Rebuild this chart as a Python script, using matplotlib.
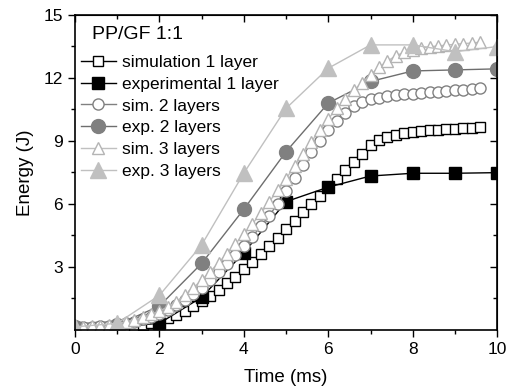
import numpy as np
import matplotlib
matplotlib.use("Agg")
import matplotlib.pyplot as plt

plt.rcParams['font.family'] = ['Liberation Sans', 'DejaVu Sans']

# simulation time grid (ms), one point every 0.2 ms
t_sim = [0.0, 0.2, 0.4, 0.6, 0.8, 1.0, 1.2, 1.4, 1.6, 1.8,
         2.0, 2.2, 2.4, 2.6, 2.8, 3.0, 3.2, 3.4, 3.6, 3.8,
         4.0, 4.2, 4.4, 4.6, 4.8, 5.0, 5.2, 5.4, 5.6, 5.8,
         6.0, 6.2, 6.4, 6.6, 6.8, 7.0, 7.2, 7.4, 7.6, 7.8,
         8.0, 8.2, 8.4, 8.6, 8.8, 9.0, 9.2, 9.4, 9.6]

sim1 = [0.10, 0.10, 0.11, 0.12, 0.13, 0.14, 0.16, 0.20, 0.26, 0.35,
        0.45, 0.58, 0.73, 0.92, 1.14, 1.38, 1.64, 1.92, 2.22, 2.54,
        2.88, 3.24, 3.61, 4.00, 4.40, 4.80, 5.20, 5.60, 6.00, 6.40,
        6.80, 7.20, 7.60, 8.00, 8.40, 8.80, 9.05, 9.20, 9.30, 9.37,
        9.42, 9.46, 9.50, 9.53, 9.56, 9.58, 9.60, 9.62, 9.65]

sim2 = [0.13, 0.14, 0.15, 0.17, 0.20, 0.26, 0.32, 0.40, 0.50, 0.62,
        0.78, 0.96, 1.18, 1.42, 1.70, 2.02, 2.38, 2.76, 3.16, 3.57,
        4.00, 4.45, 4.93, 5.45, 6.00, 6.60, 7.25, 7.85, 8.45, 9.00,
        9.50, 9.95, 10.35, 10.65, 10.85, 10.98, 11.06, 11.12, 11.17, 11.21,
        11.25, 11.28, 11.31, 11.34, 11.37, 11.40, 11.43, 11.46, 11.50]

sim3 = [0.15, 0.16, 0.18, 0.21, 0.25, 0.31, 0.39, 0.48, 0.60, 0.74,
        0.90, 1.10, 1.35, 1.65, 2.00, 2.38, 2.78, 3.20, 3.63, 4.10,
        4.57, 5.05, 5.55, 6.10, 6.65, 7.20, 7.80, 8.40, 8.97, 9.52,
        10.05, 10.55, 11.00, 11.40, 11.78, 12.15, 12.50, 12.80, 13.05, 13.22,
        13.35, 13.43, 13.48, 13.52, 13.56, 13.60, 13.63, 13.66, 13.70]

# experiments, every 1 ms
t_exp = [0, 1, 2, 3, 4, 5, 6, 7, 8, 9, 10]
exp1 = [0.10, 0.15, 0.32, 1.56, 3.68, 6.11, 6.80, 7.33, 7.46, 7.46, 7.49]
exp2 = [0.15, 0.25, 1.14, 3.17, 5.75, 8.49, 10.80, 11.83, 12.33, 12.38, 12.43]
exp3 = [0.15, 0.32, 1.65, 4.05, 7.47, 10.55, 12.46, 13.57, 13.57, 13.25, 13.49]

labels = ["simulation 1 layer", "experimental 1 layer", "sim. 2 layers",
          "exp. 2 layers", "sim. 3 layers", "exp. 3 layers"]

fig = plt.figure(figsize=(5.12, 3.91), dpi=100)
ax = fig.add_axes([0.1465, 0.156, 0.8245, 0.806])

gray = "#808080"
light = "#c0c0c0"

ax.plot(t_sim, sim1, color="black", lw=1.0, marker="s", ms=7.5, mfc="white", mec="black", mew=1.0, label=labels[0])
ax.plot(t_exp, exp1, color="black", lw=1.0, marker="s", ms=9, mfc="black", mec="black", label=labels[1])
ax.plot(t_sim, sim2, color=gray, lw=1.0, marker="o", ms=8, mfc="white", mec=gray, mew=1.0, label=labels[2])
ax.plot(t_exp, exp2, color="#6e6e6e", lw=1.0, marker="o", ms=10, mfc=gray, mec=gray, label=labels[3])
ax.plot(t_sim, sim3, color=light, lw=1.0, marker="^", ms=8.5, mfc="white", mec="#b4b4b4", mew=1.0, label=labels[4])
ax.plot(t_exp, exp3, color=light, lw=1.0, marker="^", ms=11.5, mfc=light, mec=light, label=labels[5])

ax.set_xlim(0, 10)
ax.set_ylim(0, 15)
ax.set_xticks([0, 2, 4, 6, 8, 10])
ax.set_xticks([1, 3, 5, 7, 9], minor=True)
ax.set_yticks([3, 6, 9, 12, 15])
ax.set_yticks([1.5, 4.5, 7.5, 10.5, 13.5], minor=True)
ax.tick_params(which="both", direction="out", labelsize=12.5, width=1.0)
ax.tick_params(which="major", length=5)
ax.tick_params(which="minor", length=3)
for s in ax.spines.values():
    s.set_linewidth(1.2)

# mirrored ticks on top and right, pointing inward
axt = ax.secondary_xaxis("top")
axt.set_xticks([0, 2, 4, 6, 8, 10], labels=[])
axt.set_xticks([1, 3, 5, 7, 9], minor=True)
axt.tick_params(which="both", direction="in", width=1.0)
axt.tick_params(which="major", length=5)
axt.tick_params(which="minor", length=3)
axr = ax.secondary_yaxis("right")
axr.set_yticks([3, 6, 9, 12, 15], labels=[])
axr.set_yticks([1.5, 4.5, 7.5, 10.5, 13.5], minor=True)
axr.tick_params(which="both", direction="in", width=1.0)
axr.tick_params(which="major", length=5)
axr.tick_params(which="minor", length=3)

ax.set_xlabel("Time (ms)", fontsize=13.5, labelpad=9)
ax.set_ylabel("Energy (J)", fontsize=13.5, labelpad=7)

# legend title drawn as its own text, legend below it
ax.text(0.040, 0.937, "PP/GF 1:1", transform=ax.transAxes, fontsize=14,
        ha="left", va="center")
ax.legend(loc="upper left", bbox_to_anchor=(0.014, 0.873), frameon=False,
          fontsize=12.5, handlelength=2.0, handletextpad=0.35,
          labelspacing=0.38, borderaxespad=0, borderpad=0)

fig.savefig("out.png", dpi=100)
